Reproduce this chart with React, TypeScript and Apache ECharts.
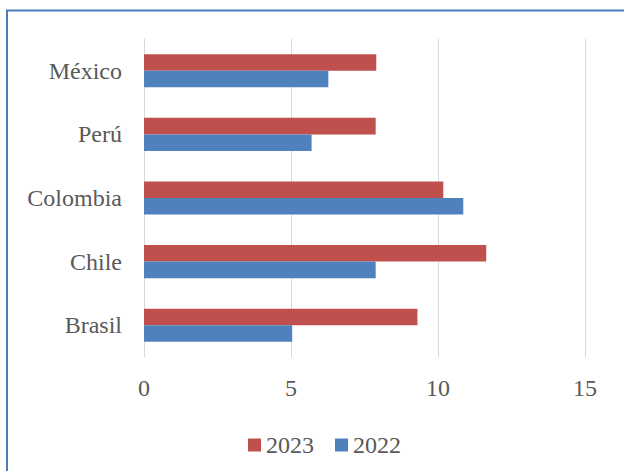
import React, { useEffect, useRef } from "react";
import * as echarts from "echarts";

const categories = ["Brasil", "Chile", "Colombia", "Perú", "México"];
const values2023 = [9.3, 11.64, 10.18, 7.88, 7.9];
const values2022 = [5.04, 7.88, 10.86, 5.7, 6.27];
const xTicks = { min: 0, max: 15, interval: 5 };

const FONT = "Liberation Serif";
const FS = 24;
const TEXT = "#595959";

export default function App() {
  const ref = useRef<HTMLDivElement>(null);
  useEffect(() => {
    if (!ref.current) return;
    const chart = echarts.init(ref.current, undefined, { renderer: "svg" });
    chart.setOption({
      animation: false,
      backgroundColor: "#ffffff",
      graphic: [
        {
          type: "rect",
          shape: { x: 7, y: 10.5, width: 700, height: 600 },
          style: { fill: "none", stroke: "#4a7ebb", lineWidth: 2 },
          silent: true,
        },
      ],
      grid: { left: 144, right: 39, top: 39, bottom: 114, containLabel: false },
      legend: {
        data: ["2023", "2022"],
        left: 243,
        top: 428,
        itemWidth: 13,
        itemHeight: 13,
        itemGap: 21,
        icon: "rect",
        textStyle: { fontFamily: FONT, fontSize: FS, color: TEXT },
      },
      xAxis: {
        type: "value",
        min: xTicks.min,
        max: xTicks.max,
        interval: xTicks.interval,
        axisLine: { show: false },
        axisTick: { show: false },
        splitLine: { show: true, lineStyle: { color: "#d9d9d9", width: 1 } },
        axisLabel: { fontFamily: FONT, fontSize: FS, color: TEXT, margin: 19 },
      },
      yAxis: {
        type: "category",
        data: categories,
        axisLine: { show: true, lineStyle: { color: "#d9d9d9", width: 1 } },
        axisTick: { show: false },
        axisLabel: { fontFamily: FONT, fontSize: FS, color: TEXT, margin: 22 },
      },
      series: [
        {
          name: "2023",
          type: "bar",
          data: values2023,
          itemStyle: { color: "#c0504d" },
          barGap: "0%",
          barCategoryGap: "48%",
        },
        {
          name: "2022",
          type: "bar",
          data: values2022,
          itemStyle: { color: "#4f81bd" },
          barGap: "0%",
          barCategoryGap: "48%",
        },
      ],
    });
    return () => chart.dispose();
  }, []);
  return (
    <div
      ref={ref}
      style={{ position: "fixed", left: 0, top: 0, width: 624, height: 471 }}
    />
  );
}
